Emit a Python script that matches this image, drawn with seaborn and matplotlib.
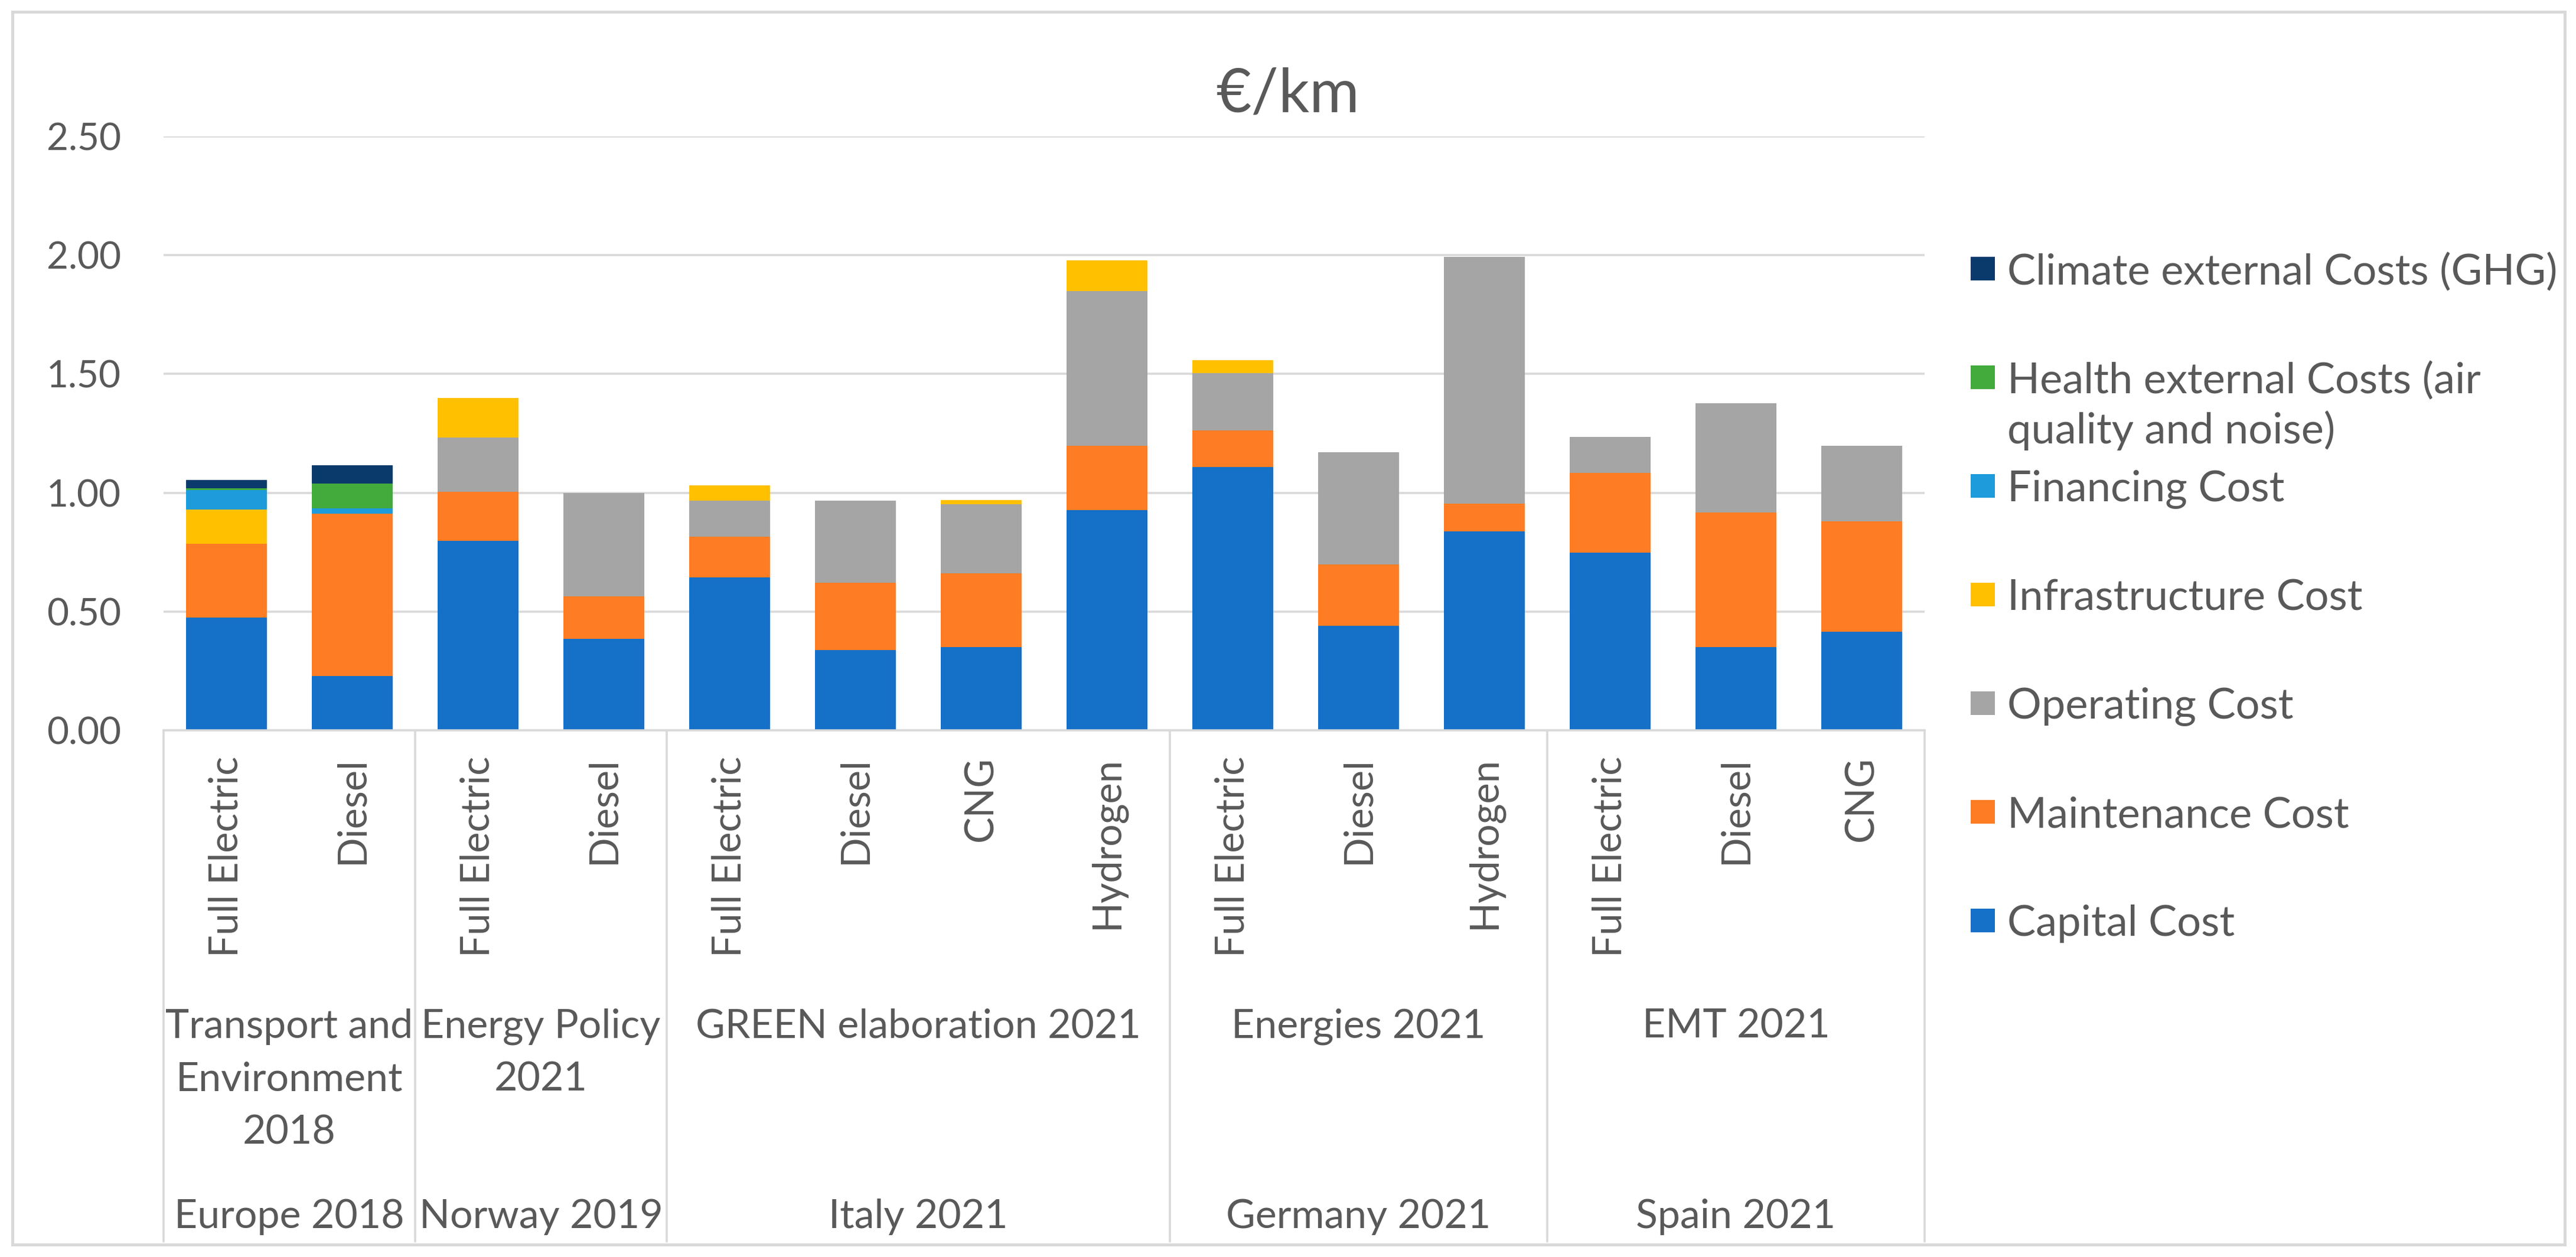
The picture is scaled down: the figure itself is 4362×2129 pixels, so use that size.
import matplotlib
matplotlib.use("Agg")
import numpy as np
import pandas as pd
import seaborn as sns
import matplotlib.pyplot as plt
from matplotlib import transforms
from matplotlib.patches import Rectangle
from matplotlib.lines import Line2D

# category levels of the x axis
technologies = ['Full Electric', 'Diesel', 'Full Electric', 'Diesel',
                'Full Electric', 'Diesel', 'CNG', 'Hydrogen',
                'Full Electric', 'Diesel', 'Hydrogen',
                'Full Electric', 'Diesel', 'CNG']
sources = ['Transport and\nEnvironment\n2018', 'Energy Policy\n2021',
           'GREEN elaboration 2021', 'Energies 2021', 'EMT 2021']
countries = ['Europe 2018', 'Norway 2019', 'Italy 2021', 'Germany 2021', 'Spain 2021']
group_sizes = [2, 2, 4, 3, 3]

# cost components in €/km (stacked bottom -> top)
capital = [0.475, 0.228, 0.797, 0.386, 0.644, 0.337, 0.351, 0.928, 1.108, 0.440, 0.838, 0.749, 0.351, 0.414]
maintenance = [0.310, 0.683, 0.206, 0.179, 0.171, 0.285, 0.309, 0.271, 0.155, 0.258, 0.117, 0.334, 0.566, 0.465]
operating = [0.0, 0.0, 0.229, 0.434, 0.151, 0.344, 0.293, 0.651, 0.240, 0.472, 1.039, 0.152, 0.459, 0.318]
infrastructure = [0.145, 0.0, 0.167, 0.0, 0.066, 0.0, 0.016, 0.128, 0.054, 0.0, 0.0, 0.0, 0.0, 0.0]
financing = [0.082, 0.024, 0.0, 0.0, 0.0, 0.0, 0.0, 0.0, 0.0, 0.0, 0.0, 0.0, 0.0, 0.0]
health = [0.008, 0.105, 0.0, 0.0, 0.0, 0.0, 0.0, 0.0, 0.0, 0.0, 0.0, 0.0, 0.0, 0.0]
climate = [0.033, 0.076, 0.0, 0.0, 0.0, 0.0, 0.0, 0.0, 0.0, 0.0, 0.0, 0.0, 0.0, 0.0]

series_names = ['Capital Cost', 'Maintenance Cost', 'Operating Cost', 'Infrastructure Cost',
                'Financing Cost', 'Health external Costs (air\nquality and noise)',
                'Climate external Costs (GHG)']
series_values = [capital, maintenance, operating, infrastructure, financing, health, climate]
series_colors = ['#1570C8', '#FE7D24', '#A5A5A5', '#FFC000', '#1E9BDA', '#43AA3C', '#0A3A6C']

TXT = '#595959'
LINE = '#D9D9D9'

sns.set_theme(style="white")
plt.rcParams['font.family'] = ['Lato', 'DejaVu Sans']

W, H = 4362, 2129
fig = plt.figure(figsize=(W / 200, H / 200), dpi=200)
ax = fig.add_axes([277 / W, 1 - 1237 / H, (3259 - 277) / W, (1237 - 231) / H])

bars = [f'b{i}' for i in range(len(technologies))]
df = pd.DataFrame(dict(zip(series_names, series_values)))
cum = df.cumsum(axis=1)
cum['bar'] = bars

# draw cumulative totals from the top segment down, so each layer covers the next
for name, color in reversed(list(zip(series_names, series_colors))):
    sns.barplot(data=cum, x='bar', y=name, order=bars, color=color, saturation=1,
                width=0.64, errorbar=None, linewidth=0, ax=ax)

ax.set_xlim(-0.5, len(bars) - 0.5)
ax.set_ylim(0, 2.5)
ax.set_yticks(np.arange(0, 2.51, 0.5))
ax.set_yticklabels([f'{v:.2f}' for v in np.arange(0, 2.51, 0.5)])
ax.set_xlabel('')
ax.set_ylabel('')
ax.tick_params(axis='y', length=0, pad=26, labelsize=23, labelcolor=TXT)
ax.tick_params(axis='x', length=0, labelbottom=False)
ax.yaxis.grid(True, color=LINE, linewidth=1.3)
ax.set_axisbelow(True)
for side in ['top', 'right', 'left']:
    ax.spines[side].set_visible(False)
ax.spines['bottom'].set_color(LINE)
ax.spines['bottom'].set_linewidth(1.3)

# multi-level category axis
trans = transforms.blended_transform_factory(ax.transData, fig.transFigure)
for i, tech in enumerate(technologies):
    ax.text(i, 1 - 1281 / H, tech, transform=trans, rotation=90, ha='center', va='top',
            fontsize=24, color=TXT)

bounds = np.concatenate([[0], np.cumsum(group_sizes)]) - 0.5
for b in bounds:
    ax.add_line(Line2D([b, b], [1 - 1237 / H, 1 - 2103 / H], transform=trans,
                       color=LINE, linewidth=1.3, clip_on=False))
for k in range(len(group_sizes)):
    xc = (bounds[k] + bounds[k + 1]) / 2
    ax.text(xc, 1 - 1708 / H, sources[k], transform=trans, ha='center', va='top',
            fontsize=24.5, color=TXT, linespacing=1.55)
    ax.text(xc, 1 - 2080 / H, countries[k], transform=trans, ha='center', va='baseline',
            fontsize=24.5, color=TXT)

# title
fig.text(0.5, 1 - 189 / H, '€/km', ha='center', va='baseline', fontsize=37, color=TXT)

# legend (top entry first, as in the chart)
for j, (name, color) in enumerate(reversed(list(zip(series_names, series_colors)))):
    yc = 455 + j * 184
    fig.add_artist(Rectangle((3337 / W, 1 - (yc + 20) / H), 41 / W, 40 / H,
                             transform=fig.transFigure, facecolor=color, edgecolor='none'))
    fig.text(3399 / W, 1 - (yc - 27) / H, name, ha='left', va='top', fontsize=26,
             color=TXT, linespacing=1.3)

# chart border
fig.add_artist(Rectangle((21 / W, 1 - 2108 / H), (4343 - 21) / W, (2108 - 20) / H,
                         transform=fig.transFigure, fill=False, edgecolor=LINE, linewidth=1.8))

fig.savefig('out.png', dpi=200, facecolor='white')
